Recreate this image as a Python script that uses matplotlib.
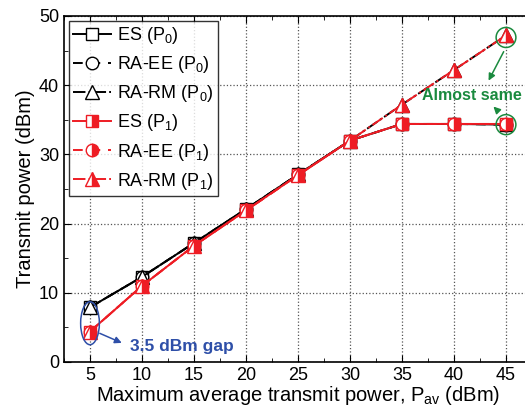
import matplotlib
matplotlib.use("Agg")
import matplotlib.pyplot as plt
from matplotlib.patches import Ellipse
from matplotlib.ticker import MultipleLocator

plt.rcParams['font.family'] = ['Liberation Sans', 'DejaVu Sans']
plt.rcParams['mathtext.fontset'] = 'custom'
plt.rcParams['mathtext.rm'] = 'Liberation Sans'

x = [5, 10, 15, 20, 25, 30, 35, 40, 45]
es_p0 = [7.9, 12.3, 17.2, 22.1, 27.1, 32.0, 34.4, 34.4, 34.3]
raee_p0 = [7.9, 12.3, 17.2, 22.1, 27.1, 32.0, 34.4, 34.4, 34.3]
rarm_p0 = [7.9, 12.3, 17.2, 22.1, 27.1, 32.0, 37.2, 42.2, 47.2]
es_p1 = [4.4, 11.0, 16.8, 21.9, 27.0, 32.0, 34.4, 34.4, 34.4]
raee_p1 = [4.4, 11.0, 16.8, 21.9, 27.0, 32.0, 34.4, 34.4, 34.4]
rarm_p1 = [4.4, 11.0, 16.8, 21.9, 27.0, 32.0, 37.2, 42.2, 47.2]

fig = plt.figure(figsize=(5.25, 4.09), dpi=100)
ax = fig.add_axes([64/525, 47/409, 468/525, 346/409])

red = '#ee1c24'
ms = 9
ax.plot(x, es_p0, '-', color='black', marker='s', mfc='white', mec='black', ms=ms, lw=1.4, label='ES (P$_\\mathrm{0}$)')
ax.plot(x, raee_p0, '--', color='black', marker='o', mfc='white', mec='black', ms=ms, lw=1.4, dashes=(5, 4), label='RA-EE (P$_\\mathrm{0}$)')
ax.plot(x, rarm_p0, '-.', color='black', marker='^', mfc='white', mec='black', ms=ms + 1, lw=1.4, label='RA-RM (P$_\\mathrm{0}$)')
ax.plot(x, es_p1, '-', color=red, marker='s', fillstyle='right', mfc=red, mfcalt='white', mec=red, ms=ms, lw=1.4, label='ES (P$_\\mathrm{1}$)')
ax.plot(x, raee_p1, '--', color=red, marker='o', fillstyle='right', mfc=red, mfcalt='white', mec=red, ms=ms, lw=1.4, dashes=(5, 4), label='RA-EE (P$_\\mathrm{1}$)')
ax.plot(x, rarm_p1, '-.', color=red, marker='^', fillstyle='right', mfc=red, mfcalt='white', mec=red, ms=ms + 1, lw=1.4, label='RA-RM (P$_\\mathrm{1}$)')

ax.set_xlim(2.5, 47.5)
ax.set_ylim(0, 50)
ax.xaxis.set_major_locator(MultipleLocator(5))
ax.xaxis.set_minor_locator(MultipleLocator(2.5))
ax.yaxis.set_major_locator(MultipleLocator(10))
ax.yaxis.set_minor_locator(MultipleLocator(5))
ax.tick_params(which='both', direction='in', top=True, right=True, labelsize=13)
ax.tick_params(which='major', length=5)
ax.tick_params(which='minor', length=3)
ax.grid(True, which='major', linestyle=':', color='#555555', lw=0.9)
for s in ax.spines.values():
    s.set_linewidth(1.2)

ax.set_xlabel('Maximum average transmit power, P$_\\mathrm{av}$ (dBm)', fontsize=14.5, labelpad=0)
ax.set_ylabel('Transmit power (dBm)', fontsize=14.5, labelpad=3)

leg = ax.legend(loc='upper left', fontsize=13, frameon=True, fancybox=False, edgecolor='black',
                borderaxespad=0.25, handlelength=2.1, handletextpad=0.35, labelspacing=0.45, borderpad=0.25)
leg.get_frame().set_linewidth(1.0)

# annotations
blue = '#2e4fa8'
ax.add_patch(Ellipse((5, 5.6), 1.8, 6.2, fill=False, ec=blue, lw=1.1, zorder=5))
ax.annotate('', xy=(8.3, 2.6), xytext=(5.7, 4.3),
            arrowprops=dict(arrowstyle='-|>', color=blue, lw=1.1, mutation_scale=10))
ax.text(8.8, 2.3, '3.5 dBm gap', color=blue, fontsize=12.5, fontweight='bold', va='center', ha='left')

green = '#1a8a3e'
ax.add_patch(Ellipse((45, 46.9), 1.9, 2.9, fill=False, ec=green, lw=1.1, zorder=5))
ax.add_patch(Ellipse((45, 34.3), 1.9, 2.9, fill=False, ec=green, lw=1.1, zorder=5))
ax.annotate('', xy=(43.2, 40.3), xytext=(44.9, 45.2),
            arrowprops=dict(arrowstyle='-|>', color=green, lw=1.1, mutation_scale=10))
ax.annotate('', xy=(43.6, 37.2), xytext=(44.4, 36.0),
            arrowprops=dict(arrowstyle='-|>', color=green, lw=1.1, mutation_scale=10))
ax.text(36.9, 38.5, 'Almost same', color=green, fontsize=11.5, fontweight='bold', va='center', ha='left', zorder=6)

fig.savefig('out.png', dpi=100)
